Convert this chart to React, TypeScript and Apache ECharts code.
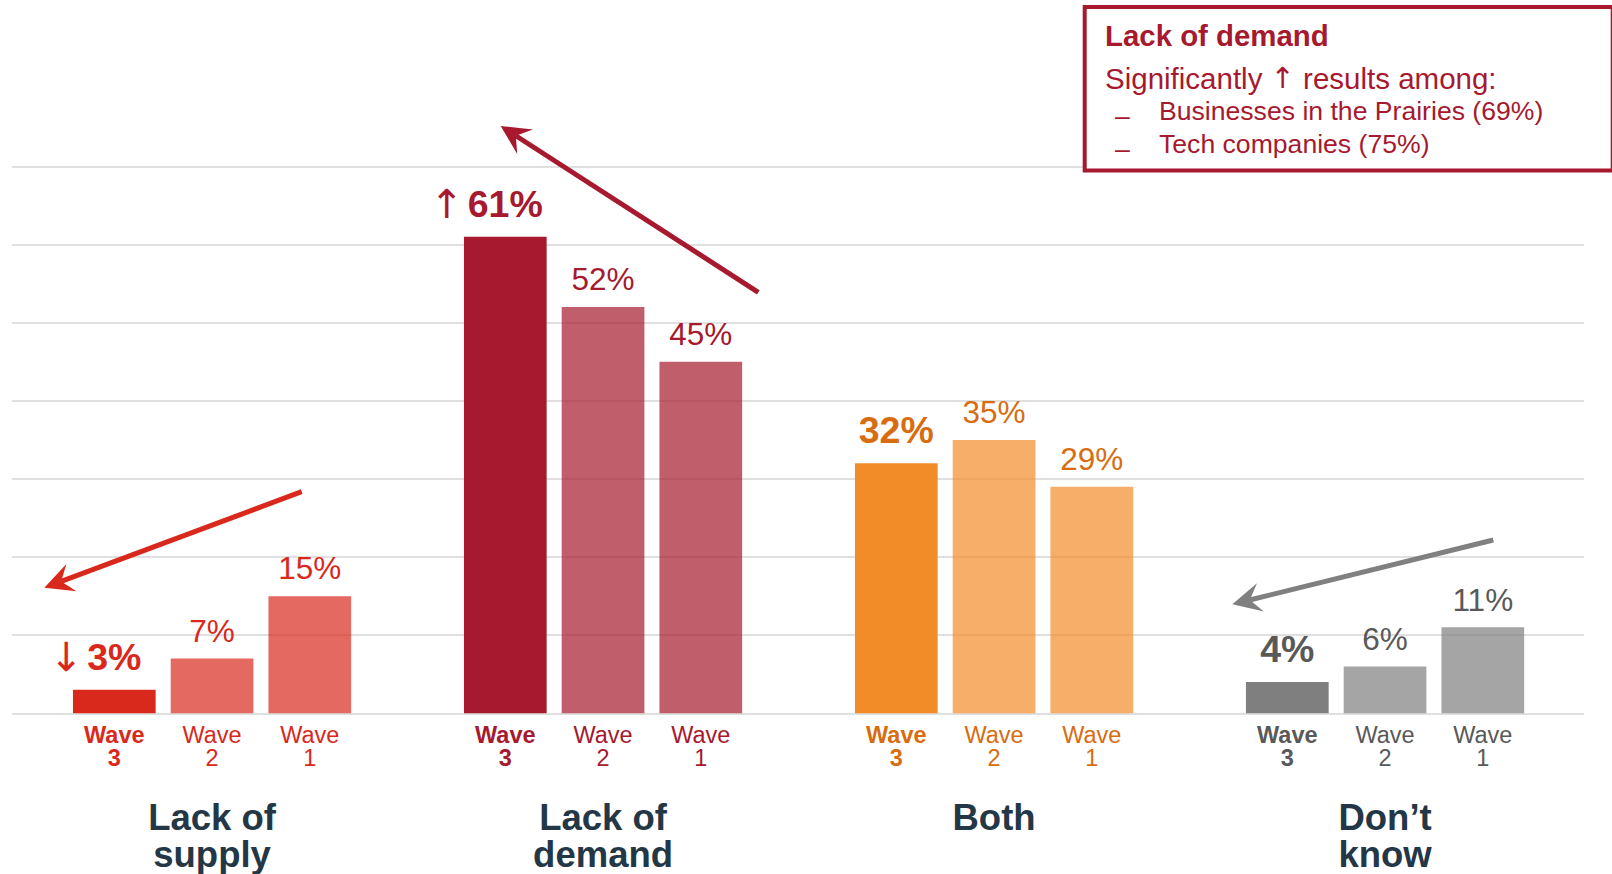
import React, { useEffect, useRef } from "react";
import * as echarts from "echarts";

// ---- data ----
const groups = ["Lack of\nsupply", "Lack of\ndemand", "Both", "Don’t\nknow"];
const waveNumbers = ["3", "2", "1"];
const wave3 = [3, 61, 32, 4];
const wave2 = [7, 52, 35, 6];
const wave1 = [15, 45, 29, 11];
const wave3Trend = ["↓", "↑", "", ""];
const yMax = 70;
const yInterval = 10;

const noteTitle = "Lack of demand";
const noteLeadParts = ["Significantly ", "↑", " results among:"];
const noteItems = ["Businesses in the Prairies (69%)", "Tech companies (75%)"];

// ---- styles ----
const barColors = ["#d9291c", "#a6192e", "#f28c28", "#7f7f7f"];
const textColors = ["#d9291c", "#a6192e", "#d86c10", "#595959"];
const titleColor = "#243746";
const gridColor = "#e0e0e0";
const FONT = "'Liberation Sans', Arial, Helvetica, sans-serif";
const ARROW_FONT = "'DejaVu Sans', sans-serif";

const TOP = 166.5;
const H = 546.8;
const SLOT = 391 / 4;
const FIRST_CENTER = 114.3;

function withAlpha(hex: string, a: number) {
  const r = parseInt(hex.slice(1, 3), 16);
  const g = parseInt(hex.slice(3, 5), 16);
  const b = parseInt(hex.slice(5, 7), 16);
  return `rgba(${r},${g},${b},${a})`;
}

function arrowGraphic(sx: number, sy: number, tx: number, ty: number, color: string) {
  const dx = sx - tx;
  const dy = sy - ty;
  const len = Math.sqrt(dx * dx + dy * dy);
  const ux = dx / len;
  const uy = dy / len;
  const px = -uy;
  const py = ux;
  const back = 29;
  const half = 14.5;
  const notch = 18;
  const b1 = [tx + ux * back + px * half, ty + uy * back + py * half];
  const b2 = [tx + ux * back - px * half, ty + uy * back - py * half];
  const n = [tx + ux * notch, ty + uy * notch];
  return [
    {
      type: "line",
      z: 50,
      shape: { x1: sx, y1: sy, x2: n[0], y2: n[1] },
      style: { stroke: color, lineWidth: 5 },
    },
    {
      type: "polygon",
      z: 50,
      shape: { points: [[tx, ty], b1, n, b2] },
      style: { fill: color },
    },
  ];
}

export default function App() {
  const ref = useRef<HTMLDivElement>(null);

  useEffect(() => {
    if (!ref.current) return;
    const chart = echarts.init(ref.current, undefined, { renderer: "svg" });

    const waves = [wave3, wave2, wave1];
    const slotMeta: ({ g: number; w: number } | null)[] = [];
    const barData: any[] = [];
    groups.forEach((_, g) => {
      waves.forEach((arr, w) => {
        slotMeta.push({ g, w });
        const v = arr[g];
        const isW3 = w === 0;
        const color = textColors[g];
        let label: any;
        if (isW3) {
          const arrow = wave3Trend[g];
          label = {
            show: true,
            position: "top",
            distance: 13,
            formatter: arrow ? `{a|${arrow}}{b|${v}%}` : `{b|${v}%}`,
            offset: arrow ? [-21, 0] : [0, 0],
            rich: {
              a: {
                fontFamily: ARROW_FONT,
                fontSize: 40,
                lineHeight: 40,
                width: 42,
                color,
                fontWeight: "normal",
              },
              b: {
                fontFamily: FONT,
                fontSize: 37.5,
                lineHeight: 40,
                fontWeight: "bold",
                color,
              },
            },
          };
        } else {
          label = {
            show: true,
            position: "top",
            distance: 12,
            formatter: `${v}%`,
            fontFamily: FONT,
            fontSize: 31.5,
            lineHeight: 31.5,
            color,
          };
        }
        barData.push({
          value: v,
          itemStyle: { color: isW3 ? barColors[g] : withAlpha(barColors[g], 0.7) },
          label,
        });
      });
      if (g < groups.length - 1) {
        slotMeta.push(null);
        barData.push({ value: "-" });
      }
    });

    const waveRich: any = {};
    groups.forEach((_, g) => {
      waveRich[`g${g}b`] = {
        fontFamily: FONT,
        fontSize: 23.5,
        lineHeight: 23.5,
        fontWeight: "bold",
        color: textColors[g],
      };
      waveRich[`g${g}n`] = {
        fontFamily: FONT,
        fontSize: 23.5,
        lineHeight: 23.5,
        fontWeight: "normal",
        color: textColors[g],
      };
    });

    const noteColor = "#a6192e";
    const graphics: any[] = [
      {
        type: "rect",
        z: 40,
        shape: { x: 1084.7, y: 7, width: 528, height: 163.5 },
        style: { fill: "#ffffff", stroke: noteColor, lineWidth: 4 },
      },
      {
        type: "text",
        z: 41,
        x: 1105,
        y: 35,
        style: {
          text: noteTitle,
          font: `bold 29.4px ${FONT}`,
          fill: noteColor,
          verticalAlign: "middle",
        },
      },
      {
        type: "text",
        z: 41,
        x: 1105,
        y: 78,
        style: {
          text: `{t|${noteLeadParts[0]}}{a|${noteLeadParts[1]}}{t|${noteLeadParts[2]}}`,
          verticalAlign: "middle",
          rich: {
            t: { fontFamily: FONT, fontSize: 29.5, fill: noteColor, lineHeight: 32 },
            a: { fontFamily: ARROW_FONT, fontSize: 29, fill: noteColor, lineHeight: 32 },
          },
        },
      },
    ];
    noteItems.forEach((t, i) => {
      const y = 111 + i * 32.5;
      graphics.push({
        type: "text",
        z: 41,
        x: 1115,
        y: y + 5,
        style: { text: "–", font: `26.6px ${FONT}`, fill: noteColor, verticalAlign: "middle" },
      });
      graphics.push({
        type: "text",
        z: 41,
        x: 1159,
        y,
        style: { text: t, font: `26.6px ${FONT}`, fill: noteColor, verticalAlign: "middle" },
      });
    });
    graphics.push(...arrowGraphic(301.7, 491.7, 44.3, 587.7, "#d9291c"));
    graphics.push(...arrowGraphic(758.3, 292.3, 500.7, 126, "#a6192e"));
    graphics.push(...arrowGraphic(1493.3, 540, 1232.3, 604.3, "#808080"));

    chart.setOption({
      animation: false,
      backgroundColor: "#ffffff",
      grid: [
        { left: 12, top: TOP, width: 1572, height: H },
        { left: FIRST_CENTER - SLOT / 2, top: TOP, width: SLOT * slotMeta.length, height: H },
        { left: FIRST_CENTER - SLOT, top: TOP, width: SLOT * 16, height: H },
      ],
      xAxis: [
        { gridIndex: 0, type: "category", data: ["a"], show: false },
        {
          gridIndex: 1,
          type: "category",
          data: slotMeta.map((_, i) => String(i)),
          axisLine: { show: false },
          axisTick: { show: false },
          axisLabel: {
            interval: 0,
            margin: 9.5,
            formatter: (_v: string, i: number) => {
              const m = slotMeta[i];
              if (!m) return "";
              const key = `g${m.g}${m.w === 0 ? "b" : "n"}`;
              return `{${key}|Wave}\n{${key}|${waveNumbers[m.w]}}`;
            },
            rich: waveRich,
          },
        },
        {
          gridIndex: 2,
          type: "category",
          data: groups,
          axisLine: { show: false },
          axisTick: { show: false },
          axisLabel: {
            interval: 0,
            margin: 86,
            fontFamily: FONT,
            fontSize: 36.5,
            lineHeight: 37,
            fontWeight: "bold",
            color: titleColor,
          },
        },
      ],
      yAxis: [
        {
          gridIndex: 0,
          type: "value",
          min: 0,
          max: yMax,
          interval: yInterval,
          axisLabel: { show: false },
          axisLine: { show: false },
          axisTick: { show: false },
          splitLine: { show: true, lineStyle: { color: gridColor, width: 2 } },
        },
        { gridIndex: 1, type: "value", min: 0, max: yMax, interval: yInterval, show: false, splitLine: { show: false } },
        { gridIndex: 2, type: "value", min: 0, max: yMax, interval: yInterval, show: false, splitLine: { show: false } },
      ],
      series: [
        {
          type: "bar",
          xAxisIndex: 1,
          yAxisIndex: 1,
          barWidth: 82.7,
          z: 3,
          data: barData,
        },
      ],
      graphic: graphics,
    });

    return () => {
      chart.dispose();
    };
  }, []);

  return (
    <div
      ref={ref}
      style={{ position: "absolute", left: 0, top: 0, width: 1612, height: 874, background: "#fff" }}
    />
  );
}
